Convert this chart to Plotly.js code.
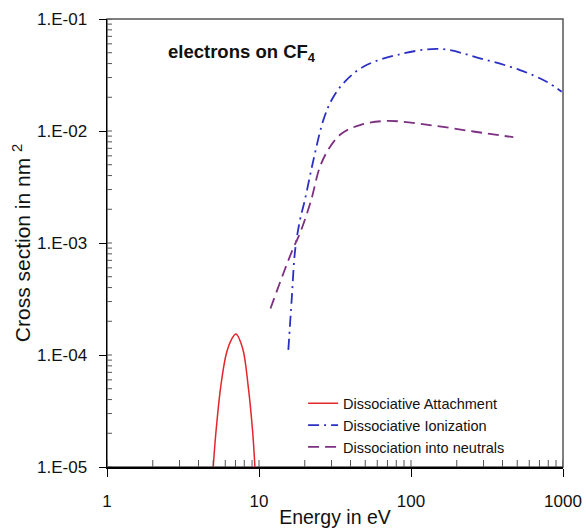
<!DOCTYPE html>
<html><head><meta charset="utf-8">
<script src="https://cdn.plot.ly/plotly-3.0.1.min.js"></script>
<style>html,body{margin:0;padding:0;background:#fff}#chart{width:586px;height:528px}</style>
</head><body><div id="chart"></div>
<script>
// Dissociative Attachment
const attachEnergy = [5.0, 5.2, 5.6, 6.1, 6.6, 7.05, 7.8, 8.5, 9.1, 9.4];
const attachCross  = [1.0e-5, 2.0e-5, 5.2e-5, 1.03e-4, 1.38e-4, 1.54e-4, 1.15e-4, 5.2e-5, 2.0e-5, 1.0e-5];
// Dissociative Ionization
const ionEnergy = [15.6, 16.4, 17.3, 18.6, 20.0, 22.8, 26.5, 30.1, 35.9, 48.6, 80.5, 155, 284, 521, 781, 980];
const ionCross  = [1.11e-4, 3.1e-4, 8.7e-4, 1.6e-3, 2.4e-3, 5.5e-3, 1.25e-2, 1.9e-2, 2.67e-2, 3.75e-2, 4.77e-2, 5.4e-2, 4.46e-2, 3.5e-2, 2.75e-2, 2.24e-2];
// Dissociation into neutrals
const neutEnergy = [11.9, 14.5, 16.8, 18.6, 22.0, 25.2, 29.3, 35.0, 46.2, 69.2, 133, 257, 471];
const neutCross  = [2.6e-4, 5.4e-4, 9.0e-4, 1.22e-3, 2.4e-3, 4.8e-3, 7.2e-3, 9.5e-3, 1.13e-2, 1.23e-2, 1.13e-2, 9.9e-3, 8.8e-3];

const seriesNames = ['Dissociative Attachment', 'Dissociative Ionization', 'Dissociation into neutrals'];

const xTickVals = [1, 10, 100, 1000];
const xTickText = ['1', '10', '100', '1000'];
const yTickVals = [1e-5, 1e-4, 1e-3, 1e-2, 1e-1];
const yTickText = ['1.E-05', '1.E-04', '1.E-03', '1.E-02', '1.E-01'];
const xMin = 1, xMax = 1000, yMin = 1e-5, yMax = 1e-1;

// inner tick positions (decade starts plus 2..9 in every decade)
function logTicksWithMinor(decades) {
  const out = [];
  decades.forEach(d => { for (let k = 1; k <= 9; k++) out.push(d * k); });
  return out;
}
const xInnerTicks = logTicksWithMinor([1, 10, 100]).concat([xMax]);
const yInnerTicks = logTicksWithMinor([1e-5, 1e-4, 1e-3, 1e-2]).concat([yMax]);

// short horizontal segments for the left-axis inner ticks (5 px long on a 3-decade x axis)
const plotW = 586 - 107 - 23;
const tickEndX = xMin * Math.pow(10, 5 / (plotW / 3));
const yTickSegX = [], yTickSegY = [];
yInnerTicks.forEach(v => { yTickSegX.push(xMin, tickEndX, null); yTickSegY.push(v, v, null); });

const traces = [
  {x: attachEnergy, y: attachCross, name: seriesNames[0], mode: 'lines',
   line: {color: '#e3262b', width: 1.5, shape: 'spline', dash: 'solid'}},
  {x: ionEnergy, y: ionCross, name: seriesNames[1], mode: 'lines',
   line: {color: '#2b2fc4', width: 1.8, shape: 'spline', dash: '11px,5px,2px,5px'}},
  {x: neutEnergy, y: neutCross, name: seriesNames[2], mode: 'lines',
   line: {color: '#7d2f82', width: 1.8, shape: 'spline', dash: '11px,6px'}},
  // inner tick marks on the bottom axis (clipped at the plot edge so only the inner half shows)
  {x: xInnerTicks, y: xInnerTicks.map(() => yMin), mode: 'markers', showlegend: false, hoverinfo: 'skip',
   cliponaxis: true, marker: {symbol: 'line-ns', size: 10, line: {width: 1, color: '#555'}}},
  // inner tick marks on the left axis
  {x: yTickSegX, y: yTickSegY, mode: 'lines', showlegend: false, hoverinfo: 'skip',
   connectgaps: false, line: {color: '#555', width: 1}}
];

const layout = {
  width: 586, height: 528,
  margin: {l: 107, r: 23, t: 19, b: 61, pad: 0},
  paper_bgcolor: '#fff', plot_bgcolor: '#fff',
  font: {family: 'Liberation Sans, Arial, sans-serif', color: '#111', size: 16},
  showlegend: true,
  legend: {x: 0.43, xanchor: 'left', y: 0.178, yanchor: 'top',
           bgcolor: 'rgba(0,0,0,0)', font: {size: 14.5}, tracegroupgap: 0, itemwidth: 30},
  xaxis: {
    type: 'log', range: [0, 3], showgrid: false, zeroline: false,
    showline: true, linecolor: '#000', linewidth: 1.5,
    ticks: 'outside', ticklen: 8, tickcolor: '#000', tickwidth: 1,
    tickmode: 'array', tickvals: xTickVals, ticktext: xTickText,
    tickfont: {size: 17}, ticklabelstandoff: 10,
    title: {text: 'Energy in eV', font: {size: 19.5}, standoff: 0}
  },
  yaxis: {
    type: 'log', range: [-5, -1], showgrid: false, zeroline: false,
    showline: true, linecolor: '#000', linewidth: 1.5,
    ticks: 'outside', ticklen: 7, tickcolor: '#000', tickwidth: 1,
    tickmode: 'array', tickvals: yTickVals, ticktext: yTickText,
    tickfont: {size: 17}, ticklabelstandoff: 8,
    title: {text: 'Cross section in nm <sup>2</sup>', font: {size: 21}, standoff: 0}
  },
  shapes: [{type: 'rect', xref: 'paper', yref: 'paper', x0: 0, x1: 1, y0: 0, y1: 1,
            line: {color: '#555', width: 1.5}, layer: 'below'}],
  annotations: [{xref: 'paper', yref: 'paper', x: 0.13, y: 0.925, xanchor: 'left', yanchor: 'middle',
                 text: '<b>electrons on CF<sub>4</sub></b>', showarrow: false,
                 font: {size: 18.5, color: '#111'}}]
};

Plotly.newPlot('chart', traces, layout, {displayModeBar: false, staticPlot: true});
</script>
</body></html>
